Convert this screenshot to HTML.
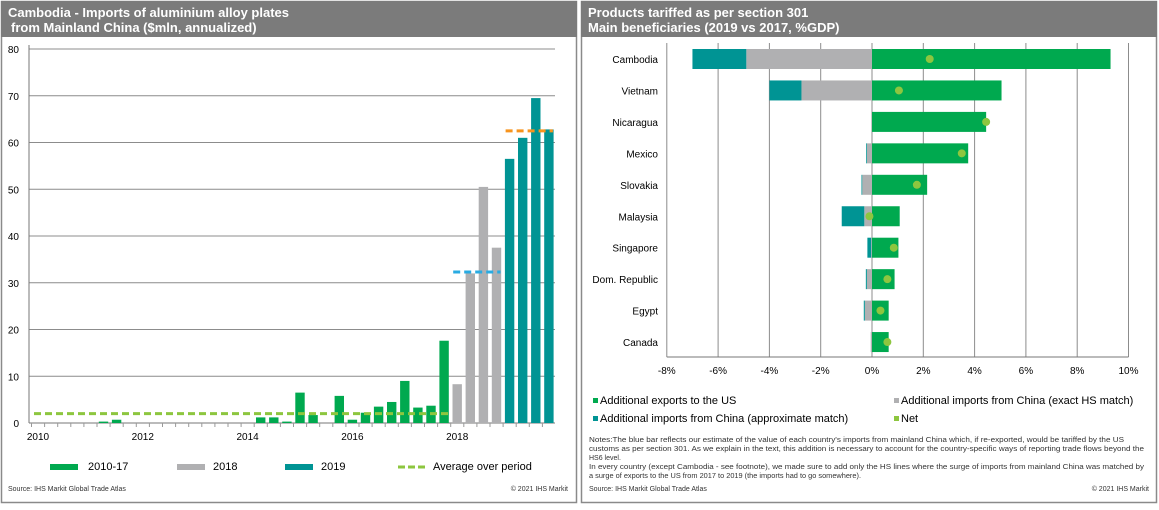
<!DOCTYPE html>
<html><head><meta charset="utf-8"><style>
body{margin:0;background:#fff;font-family:"Liberation Sans",Arial,sans-serif;}
svg text{font-family:"Liberation Sans",Arial,sans-serif;}
</style></head><body>
<svg id="root" width="1159" height="505" viewBox="0 0 1159 505" xmlns="http://www.w3.org/2000/svg">
<rect x="0" y="0" width="1159" height="505" fill="#fff"/>
<g>
<rect x="1.5" y="1.5" width="575" height="501" fill="#fff" stroke="#8a8a8a" stroke-width="1.5"/>
<rect x="1" y="1" width="576" height="36" fill="#7b7b7b"/>
<text x="8" y="17" fill="#fff" font-size="13" font-weight="bold">Cambodia - Imports of aluminium alloy plates</text>
<text x="11" y="32" fill="#fff" font-size="13" font-weight="bold">from Mainland China ($mln, annualized)</text>
<g id="lgrid"></g><g id="lbars"></g><g id="lavg"></g><g id="laxis"></g>
<g>
<rect x="50" y="464" width="28" height="6" fill="#00a94f"/><text x="88" y="470" font-size="11">2010-17</text>
<rect x="177" y="464" width="28" height="6" fill="#b0b0b2"/><text x="213" y="470" font-size="11">2018</text>
<rect x="285" y="464" width="28" height="6" fill="#009494"/><text x="321" y="470" font-size="11">2019</text>
<line x1="398" y1="467" x2="426" y2="467" stroke="#8dc63f" stroke-width="3" stroke-dasharray="7,3"/><text x="433" y="470" font-size="11">Average over period</text>
</g>
<text x="8" y="491" font-size="7" fill="#333">Source: IHS Markit Global Trade Atlas</text>
<text x="568" y="491" font-size="7" fill="#333" text-anchor="end">© 2021 IHS Markit</text>
</g>
<g>
<rect x="581.5" y="1.5" width="575" height="501" fill="#fff" stroke="#8a8a8a" stroke-width="1.5"/>
<rect x="581" y="1" width="576" height="36" fill="#7b7b7b"/>
<text x="588" y="17" fill="#fff" font-size="13" font-weight="bold">Products tariffed as per section 301</text>
<text x="588" y="32" fill="#fff" font-size="13" font-weight="bold">Main beneficiaries (2019 vs 2017, %GDP)</text>
<g id="rgrid"></g><g id="rbars"></g><g id="raxis"></g>
<g font-size="11">
<rect x="593" y="398" width="5" height="5" fill="#00a94f"/><text x="600" y="404">Additional exports to the US</text>
<rect x="894" y="398" width="5" height="5" fill="#b0b0b2"/><text x="901" y="404">Additional imports from China (exact HS match)</text>
<rect x="593" y="416" width="5" height="5" fill="#009494"/><text x="600" y="422">Additional imports from China (approximate match)</text>
<rect x="894" y="416" width="5" height="5" fill="#8dc63f"/><text x="901" y="422">Net</text>
</g>
<g font-size="7" fill="#333">
<text x="589" y="442" textLength="535" lengthAdjust="spacingAndGlyphs">Notes:The blue bar reflects our estimate of the value of each country's imports from mainland China which, if re-exported, would be tariffed by the US</text>
<text x="589" y="451" textLength="555" lengthAdjust="spacingAndGlyphs">customs as per section 301. As we explain in the text, this addition is necessary to account for the country-specific ways of reporting trade flows beyond the</text>
<text x="589" y="460">HS6 level.</text>
<text x="589" y="469" textLength="555" lengthAdjust="spacingAndGlyphs">In every country (except Cambodia - see footnote), we made sure to add only the HS lines where the surge of imports from mainland China was matched by</text>
<text x="589" y="478" textLength="272" lengthAdjust="spacingAndGlyphs">a surge of exports to the US from 2017 to 2019 (the imports had to go somewhere).</text>
</g>
<text x="589" y="491" font-size="7" fill="#333">Source: IHS Markit Global Trade Atlas</text>
<text x="1149" y="491" font-size="7" fill="#333" text-anchor="end">© 2021 IHS Markit</text>
</g>
</svg>
<script>
var NS="http://www.w3.org/2000/svg";
// Left chart data (quarterly, 2010Q1 index 0)
var quarterValues=[0,0,0,0,0,0.3,0.7,0,0,0,0,0,0,0,0,0,0,1.2,1.2,0.3,6.5,1.7,0,5.8,0.7,2.2,3.5,4.5,9.0,3.3,3.7,17.6,8.3,32,50.5,37.5,56.5,61,69.5,62.8];
var yTicks=[0,10,20,30,40,50,60,70,80];
var yearLabels=["2010","2012","2014","2016","2018"];
var avgValues=[2.0,32.3,62.5];
var avgRanges=[[0,31],[32,35],[36,39]];
// Right chart data
var countries=["Cambodia","Vietnam","Nicaragua","Mexico","Slovakia","Malaysia","Singapore","Dom. Republic","Egypt","Canada"];
var exportsUS=[9.3,5.05,4.45,3.75,2.15,1.08,1.03,0.88,0.65,0.65];
var importsExact=[-4.9,-2.75,0,-0.2,-0.38,-0.3,-0.03,-0.2,-0.28,-0.05];
var importsApprox=[-2.1,-1.25,0,-0.03,-0.03,-0.88,-0.15,-0.04,-0.04,0];
var netValues=[2.25,1.05,4.45,3.5,1.75,-0.1,0.85,0.6,0.33,0.6];
var xTicks=[-8,-6,-4,-2,0,2,4,6,8,10];

function mk(tag,attrs,parent){var e=document.createElementNS(NS,tag);for(var k in attrs)e.setAttribute(k,attrs[k]);parent.appendChild(e);return e;}
var lx=function(i){return 38+i*13.1;};
var ly=function(v){return 423-v*4.675;};
var g=document.getElementById('lgrid');
yTicks.forEach(function(t){
 var l=mk('line',{x1:29,x2:555,y1:ly(t),y2:ly(t),stroke:t===0?'#777':'#8c8c8c','stroke-width':1},g);
 
 
 var tx=mk('text',{x:19,y:ly(t)+4,'font-size':10,'text-anchor':'end'},g);tx.textContent=t;
 
 
});
var ax=document.getElementById('laxis');
mk('line',{x1:29,x2:29,y1:45,y2:423,stroke:'#777'},ax);
for(var i=0;i<40;i++){mk('line',{x1:lx(i)-6.5,x2:lx(i)-6.5,y1:423,y2:427,stroke:'#999'},ax);}
yearLabels.forEach(function(y,k){
 var tx=mk('text',{x:lx(k*8),y:440,'font-size':10,'text-anchor':'middle'},ax);tx.textContent=y;
 
 
});
var bg=document.getElementById('lbars');
quarterValues.forEach(function(v,i){
 if(!v)return;
 var c=i<32?'#00a94f':(i<36?'#b0b0b2':'#009494');
 var r=mk('rect',{x:lx(i)-4.7,y:ly(v),width:9.4,height:423-ly(v),fill:c},bg);
 
 
});
var ag=document.getElementById('lavg');
var avgCols=['#8dc63f','#29abe2','#f7941d'];
avgValues.forEach(function(v,k){
 var l=mk('line',{x1:lx(avgRanges[k][0])-4,x2:lx(avgRanges[k][1])+4,y1:ly(v),y2:ly(v),stroke:avgCols[k],'stroke-width':3,'stroke-dasharray':'7,4'},ag);
 
 
});
var rx=function(v){return 872+v*25.65;};
var ry=function(i){return 59+i*31.45;};
var rg=document.getElementById('rgrid');
xTicks.forEach(function(t){
 var l=mk('line',{x1:rx(t),x2:rx(t),y1:43,y2:357,stroke:'#8c8c8c'},rg);
 
 
 var tx=mk('text',{x:rx(t),y:374,'font-size':10,'text-anchor':'middle'},rg);tx.textContent=t+'%';
 
 
});
mk('line',{x1:rx(-8),x2:rx(10),y1:357,y2:357,stroke:'#777'},rg);
var rb=document.getElementById('rbars');
countries.forEach(function(c,i){
 var y=ry(i),h=20;
 var tx=mk('text',{x:658,y:y+4,'font-size':10,'text-anchor':'end'},rb);tx.textContent=c;
 
 
 var e=mk('rect',{x:rx(0),y:y-h/2,width:rx(exportsUS[i])-rx(0),height:h,fill:'#00a94f'},rb);
 
 
 var ex=mk('rect',{x:rx(importsExact[i]),y:y-h/2,width:rx(0)-rx(importsExact[i]),height:h,fill:'#b0b0b2'},rb);
 
 
 var s=importsExact[i];
 var ap=mk('rect',{x:rx(s+importsApprox[i]),y:y-h/2,width:rx(s)-rx(s+importsApprox[i]),height:h,fill:'#009494'},rb);
 
 
 var d=mk('circle',{cx:rx(netValues[i]),cy:y,r:4,fill:'#8dc63f'},rb);
 
 
});
</script>
</body></html>
